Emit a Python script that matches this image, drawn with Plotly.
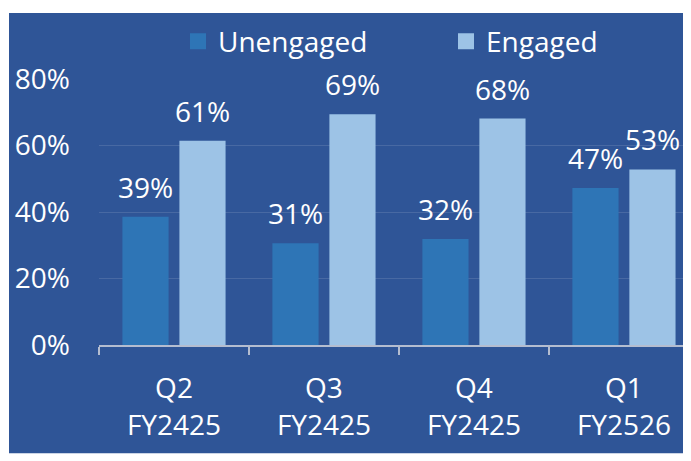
import plotly.graph_objects as go

categories = ["Q2<br>FY2425", "Q3<br>FY2425", "Q4<br>FY2425", "Q1<br>FY2526"]
unengaged = [0.386, 0.306, 0.319, 0.472]
engaged = [0.614, 0.694, 0.681, 0.528]
series_names = ["Unengaged", "Engaged"]
y_ticks = [0, 0.2, 0.4, 0.6, 0.8]
y_tick_labels = ["0%", "20%", "40%", "60%", "80%"]

BG = "#2F5597"
C_UN = "#2E75B6"
C_EN = "#9DC3E6"
FONT = "Open Sans"
FS = 28

# page body has an 8px margin: compensate so the window matches the reference
OFF = 8
W, H = 691, 461
ML, MR, MT, MB = 99 - OFF, OFF, 75 - OFF, 116 + OFF
PW, PH = W - ML - MR, H - MT - MB

fig = go.Figure()
fig.add_trace(go.Bar(name=series_names[0], x=categories, y=unengaged, showlegend=False,
                     marker=dict(color=C_UN, line=dict(width=0))))
fig.add_trace(go.Bar(name=series_names[1], x=categories, y=engaged, showlegend=False,
                     marker=dict(color=C_EN, line=dict(width=0))))
# legend keys (larger square swatches than the default bar key)
for name, col, lg in ((series_names[0], C_UN, "legend"), (series_names[1], C_EN, "legend2")):
    fig.add_trace(go.Scatter(name=name, x=[None], y=[None], mode="markers", legend=lg,
                             marker=dict(symbol="square", size=18, color=col,
                                         line=dict(width=0)),
                             hoverinfo="skip"))

cat_px = PW / 3.947
slot = cat_px * (1 - 0.24) / 2
annotations = []
for vals, sh in ((unengaged, -slot / 2), (engaged, slot / 2)):
    for c, v in zip(categories, vals):
        annotations.append(dict(x=c, y=v, xref="x", yref="y", text=f"{round(v*100)}%",
                                showarrow=False, xshift=sh, yshift=30, yanchor="middle",
                                font=dict(family=FONT, size=FS, color="white")))

shapes = [dict(type="rect", xref="paper", yref="paper", layer="below",
               x0=(9 - OFF - ML) / PW, x1=(W - ML) / PW,
               y0=(MT + PH - (455 - OFF)) / PH, y1=(MT + PH) / PH,
               fillcolor=BG, line=dict(width=0))]

legend_common = dict(orientation="h", xanchor="left",
                     y=(MT + PH - (37 - OFF)) / PH, yanchor="middle",
                     font=dict(family=FONT, size=FS, color="white"),
                     bgcolor="rgba(0,0,0,0)", itemclick=False, itemdoubleclick=False)

fig.update_layout(
    width=W, height=H,
    margin=dict(l=ML, r=MR, t=MT, b=MB, pad=0),
    paper_bgcolor="white", plot_bgcolor=BG,
    barmode="group", bargap=0.24, bargroupgap=0.19,
    font=dict(family=FONT, size=FS, color="white"),
    showlegend=True,
    legend=dict(x=(170 - ML) / PW, **legend_common),
    legend2=dict(x=(438 - ML) / PW, **legend_common),
    annotations=annotations,
    shapes=shapes,
    xaxis=dict(type="category", range=[-0.5, 3.447], showline=True, linecolor="#B4BDD0",
               linewidth=1.5, ticks="outside", tickson="boundaries", ticklen=8,
               tickcolor="#B4BDD0", tickwidth=1.5, showgrid=False,
               tickfont=dict(family=FONT, size=FS, color="white"), ticklabelstandoff=18),
    yaxis=dict(range=[0, 0.8], tickvals=y_ticks, ticktext=y_tick_labels,
               showgrid=True, gridcolor="#4869A3", gridwidth=1.2, zeroline=False,
               showline=False, ticks="", ticklabelstandoff=28,
               tickfont=dict(family=FONT, size=FS, color="white")),
)

fig.write_html("out.html")
